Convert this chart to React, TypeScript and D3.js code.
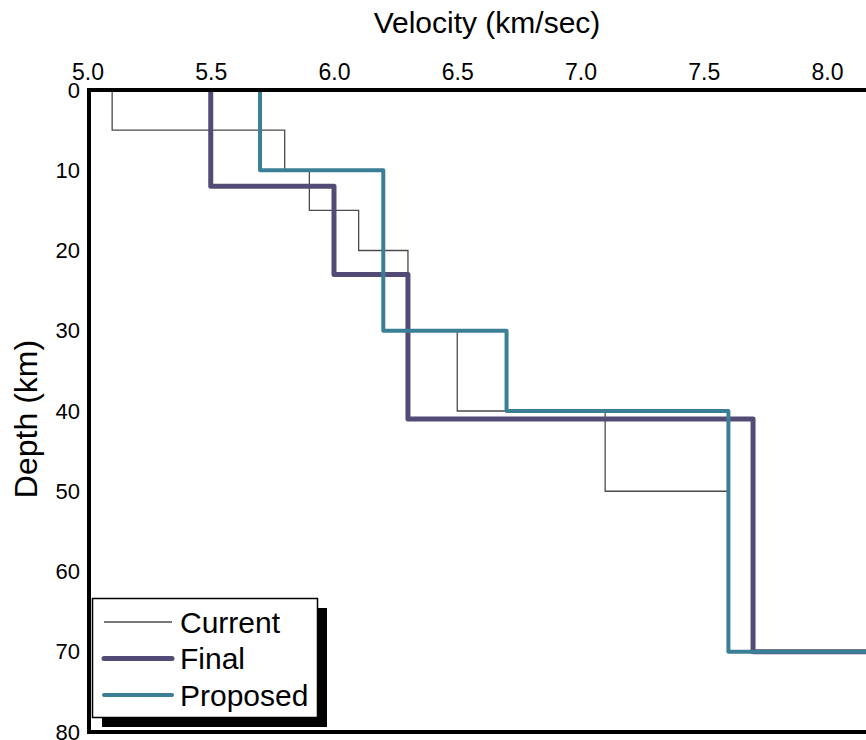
import { useRef, useEffect } from 'react';
import * as d3 from 'd3';

const FONT = 'Liberation Sans, Arial, Helvetica, sans-serif';
const CURRENT_COLOR = '#4a4a4a';
const FINAL_COLOR = '#524b75';
const PROPOSED_COLOR = '#3b7f96';

// tick labels
const velocityTicks = [5.0, 5.5, 6.0, 6.5, 7.0, 7.5, 8.0];
const depthTicks = [0, 10, 20, 30, 40, 50, 60, 70, 80];

// layer tops (km) and layer velocities (km/sec)
const currentTops = [0, 5, 10, 15, 20, 30, 40, 50, 70];
const currentVel = [5.1, 5.8, 5.9, 6.1, 6.3, 6.5, 7.1, 7.6, 8.3];

const finalTops = [0, 12, 23, 41, 70];
const finalVel = [5.5, 6.0, 6.3, 7.7, 8.3];

const proposedTops = [0, 10, 30, 40, 70];
const proposedVel = [5.7, 6.2, 6.7, 7.6, 8.3];

const legendNames = ['Current', 'Final', 'Proposed'];

const W = 866;
const H = 740;
const margin = { left: 89, top: 90 };
const plotBottom = 732;

const toSteps = (tops, vels, maxDepth) => {
  const pts = [];
  tops.forEach((t, i) => {
    const bottom = i < tops.length - 1 ? tops[i + 1] : maxDepth;
    pts.push([vels[i], t]);
    pts.push([vels[i], bottom]);
  });
  return pts;
};

const VelocityChart = () => {
  const svgRef = useRef(null);

  useEffect(() => {
    const svg = d3.select(svgRef.current);
    svg.selectAll('*').remove();

    const x = d3.scaleLinear().domain([5, 8.5]).range([87.5, 87.5 + 3.5 * 246.5]);
    const y = d3.scaleLinear().domain([0, 80]).range([margin.top, plotBottom]);

    svg
      .append('clipPath')
      .attr('id', 'plot-clip')
      .append('rect')
      .attr('x', margin.left)
      .attr('y', margin.top)
      .attr('width', W)
      .attr('height', plotBottom - margin.top);

    // Top axis
    const xAxis = svg
      .append('g')
      .attr('transform', `translate(0, ${margin.top})`)
      .call(
        d3
          .axisTop(x)
          .tickValues(velocityTicks)
          .tickFormat(d3.format('.1f'))
          .tickSize(0)
          .tickPadding(10)
      );
    xAxis.select('.domain').remove();
    xAxis
      .selectAll('text')
      .style('font-family', FONT)
      .style('font-size', '23px')
      .attr('fill', '#000');

    // Left axis
    const yAxis = svg
      .append('g')
      .attr('transform', `translate(${margin.left}, 0)`)
      .call(d3.axisLeft(y).tickValues(depthTicks).tickSize(0).tickPadding(9));
    yAxis.select('.domain').remove();
    yAxis
      .selectAll('text')
      .style('font-family', FONT)
      .style('font-size', '22px')
      .attr('fill', '#000');

    // Axis titles
    svg
      .append('text')
      .attr('x', 487)
      .attr('y', 33)
      .attr('text-anchor', 'middle')
      .style('font-family', FONT)
      .style('font-size', '30px')
      .text('Velocity (km/sec)');

    svg
      .append('text')
      .attr('transform', `translate(37, 419) rotate(-90)`)
      .attr('text-anchor', 'middle')
      .style('font-family', FONT)
      .style('font-size', '32px')
      .text('Depth (km)');

    // Lines
    const line = d3
      .line()
      .x((d) => x(d[0]))
      .y((d) => y(d[1]));

    const plot = svg.append('g').attr('clip-path', 'url(#plot-clip)');

    plot
      .append('path')
      .attr('d', line(toSteps(currentTops, currentVel, 80)))
      .attr('fill', 'none')
      .attr('stroke', CURRENT_COLOR)
      .attr('stroke-width', 1.3);

    plot
      .append('path')
      .attr('d', line(toSteps(finalTops, finalVel, 80)))
      .attr('fill', 'none')
      .attr('stroke', FINAL_COLOR)
      .attr('stroke-width', 5)
      .attr('stroke-linejoin', 'round');

    plot
      .append('path')
      .attr('d', line(toSteps(proposedTops, proposedVel, 80)))
      .attr('fill', 'none')
      .attr('stroke', PROPOSED_COLOR)
      .attr('stroke-width', 4)
      .attr('stroke-linejoin', 'round');

    // Frame
    svg
      .append('path')
      .attr(
        'd',
        `M${W + 10},${margin.top}H${margin.left}V${plotBottom}H${W + 10}`
      )
      .attr('fill', 'none')
      .attr('stroke', '#000')
      .attr('stroke-width', 4)
      .attr('stroke-linejoin', 'miter');

    // Legend
    const lg = svg.append('g');
    lg.append('rect')
      .attr('x', 102)
      .attr('y', 608)
      .attr('width', 225)
      .attr('height', 119)
      .attr('fill', '#000');
    lg.append('rect')
      .attr('x', 92.5)
      .attr('y', 598.5)
      .attr('width', 225)
      .attr('height', 119)
      .attr('fill', '#fff')
      .attr('stroke', '#000')
      .attr('stroke-width', 1.5);

    const styles = [
      { color: CURRENT_COLOR, width: 1.3 },
      { color: FINAL_COLOR, width: 5 },
      { color: PROPOSED_COLOR, width: 4 },
    ];
    const legendY = d3.scalePoint().domain(legendNames).range([622, 695]);

    legendNames.forEach((name, i) => {
      const ly = legendY(name);
      lg.append('line')
        .attr('x1', 104)
        .attr('x2', 172)
        .attr('y1', ly)
        .attr('y2', ly)
        .attr('stroke', styles[i].color)
        .attr('stroke-width', styles[i].width)
        .attr('stroke-linecap', i === 0 ? 'butt' : 'round');
      lg.append('text')
        .attr('x', 180)
        .attr('y', ly)
        .attr('dy', '0.36em')
        .style('font-family', FONT)
        .style('font-size', '30px')
        .text(name);
    });
  }, []);

  return (
    <svg
      ref={svgRef}
      width={W}
      height={H}
      style={{ position: 'absolute', left: 0, top: 0, background: '#fff' }}
    />
  );
};

export default function App() {
  return <VelocityChart />;
}
